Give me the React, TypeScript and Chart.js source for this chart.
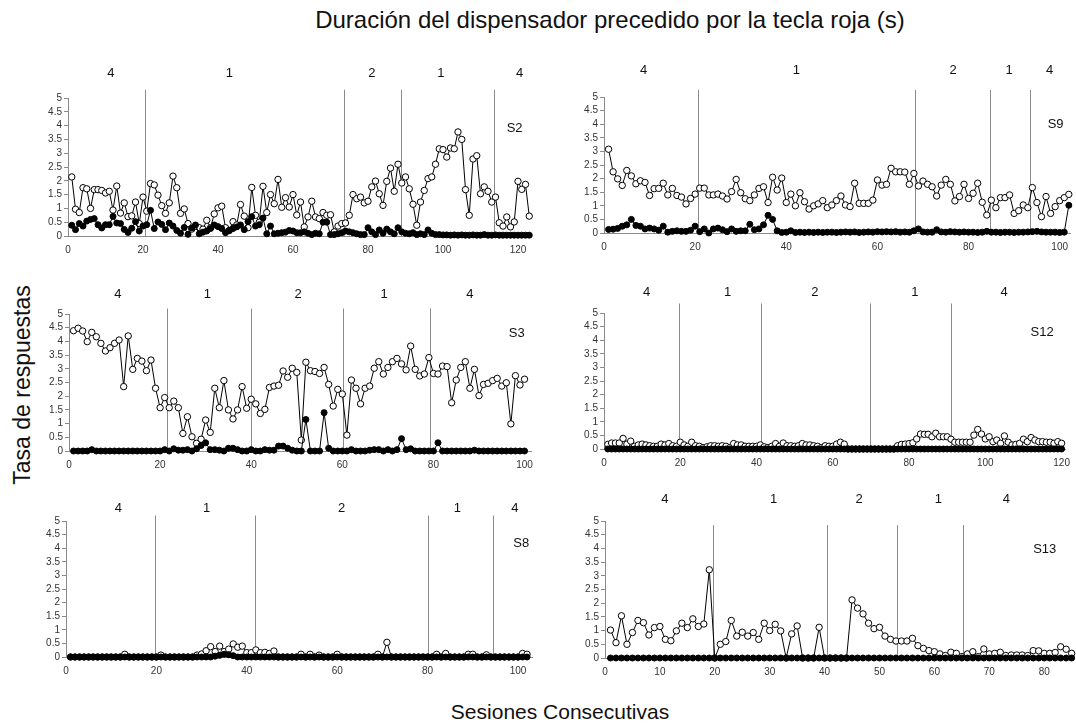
import React, { useEffect, useRef } from "react";
import { Chart, registerables } from "chart.js";

Chart.register(...registerables);

const FONT = "'Liberation Sans', Arial, sans-serif";

// ---------------- DATA ----------------
// S2
const s2Open = [
  2.14, 0.97, 0.85, 1.75, 1.71, 1.0, 1.68, 1.68, 1.65, 1.56,
  1.62, 0.94, 1.81, 0.83, 1.2, 0.7, 0.73, 1.23, 0.45, 1.41,
  0.9, 1.9, 1.85, 1.48, 1.1, 0.82, 1.2, 2.17, 1.75, 0.82,
  0.98, 0.45, 0.25, 0.35, 0.3, 0.25, 0.57, 0.3, 0.8, 1.02,
  1.08, 0.3, 0.2, 0.52, 0.4, 1.14, 0.72, 0.3, 1.76, 0.75,
  0.5, 1.8, 0.85, 1.5, 1.17, 2.05, 1.04, 1.39, 1.05, 1.5,
  0.76, 1.23, 0.33, 0.69, 1.26, 0.69, 0.63, 0.85, 0.75, 0.77,
  0.15, 0.36, 0.45, 0.47, 0.75, 1.5, 1.35, 1.41, 1.2, 1.26,
  1.78, 1.99, 1.53, 1.11, 1.98, 2.46, 1.62, 2.6, 1.92, 2.14,
  1.71, 1.15, 0.39, 1.23, 1.65, 2.08, 2.14, 2.6, 3.16, 3.13,
  2.86, 3.19, 3.16, 3.77, 3.5, 1.68, 0.75, 2.79, 2.91, 1.53,
  1.78, 1.62, 1.23, 1.41, 0.48, 0.36, 0.69, 0.33, 0.51, 1.98,
  1.69, 1.87, 0.72,
];
const s2Filled = [
  0.39, 0.23, 0.45, 0.36, 0.54, 0.6, 0.63, 0.41, 0.29, 0.41,
  0.41, 0.71, 0.47, 0.45, 0.24, 0.13, 0.28, 0.52, 0.18, 0.36,
  0.41, 0.93, 0.27, 0.51, 0.42, 0.23, 0.47, 0.36, 0.2, 0.1,
  0.31, 0.06, 0.29, 0.4, 0.08, 0.14, 0.18, 0.27, 0.4, 0.34,
  0.27, 0.12, 0.2, 0.27, 0.33, 0.4, 0.23, 0.52, 0.7, 0.36,
  0.41, 0.65, 0.08, 0.36, 0.08, 0.1, 0.12, 0.14, 0.2, 0.18,
  0.12, 0.12, 0.15, 0.1, 0.05, 0.1, 0.08, 0.5, 0.5, 0.05,
  0.05, 0.08, 0.12, 0.18, 0.15, 0.12, 0.08, 0.05, 0.05, 0.3,
  0.15, 0.05, 0.22, 0.1, 0.25, 0.15, 0.08, 0.3, 0.15, 0.1,
  0.08, 0.12, 0.05, 0.08, 0.05, 0.22, 0.1, 0.05, 0.05, 0.04,
  0.04, 0.03, 0.04, 0.03, 0.04, 0.03, 0.03, 0.04, 0.03, 0.03,
  0.05, 0.03, 0.03, 0.04, 0.03, 0.03, 0.03, 0.03, 0.03, 0.03,
  0.03, 0.03, 0.03,
];
const s2Phases = [20.45, 73.5, 88.7, 113.5];
const s2PhaseLabels = ["4", "1", "2", "1", "4"];
const s2PhaseLabelX = [11.4, 43, 81, 99.4, 120.4];

// S9
const s9Open = [
  3.08, 2.25, 1.99, 1.75, 2.3, 2.1, 1.81, 1.92, 1.86, 1.38,
  1.63, 1.64, 1.83, 1.4, 1.64, 1.38, 1.32, 1.07, 1.27, 1.43,
  1.65, 1.65, 1.4, 1.4, 1.43, 1.36, 1.25, 1.52, 1.97, 1.48,
  1.26, 1.19, 1.4, 1.64, 1.7, 1.12, 2.05, 1.58, 2.02, 1.12,
  1.43, 1.0, 1.48, 1.15, 0.88, 1.0, 1.07, 1.19, 0.93, 1.03,
  1.19, 1.36, 1.03, 0.97, 1.83, 1.09, 1.09, 1.09, 1.21, 1.95,
  1.76, 1.79, 2.38, 2.25, 2.25, 2.24, 1.79, 2.19, 1.73, 1.91,
  1.79, 1.7, 1.36, 1.76, 1.97, 1.79, 1.18, 1.34, 1.79, 1.27,
  1.46, 1.83, 1.13, 0.66, 1.21, 0.93, 1.3, 1.3, 1.4, 0.72,
  0.82, 1.03, 0.93, 1.67, 1.12, 0.6, 1.34, 0.72, 0.97, 1.19,
  1.3, 1.42,
];
const s9Filled = [
  0.13, 0.14, 0.17, 0.25, 0.3, 0.5, 0.28, 0.25, 0.15, 0.18,
  0.15, 0.1, 0.25, 0.03, 0.06, 0.08, 0.06, 0.06, 0.1, 0.25,
  0.05, 0.15, 0.0, 0.15, 0.18, 0.12, 0.05, 0.15, 0.06, 0.08,
  0.08, 0.32, 0.12, 0.15, 0.3, 0.65, 0.5, 0.08, 0.02, 0.03,
  0.08, 0.02, 0.03, 0.02, 0.03, 0.02, 0.03, 0.02, 0.03, 0.03,
  0.02, 0.03, 0.04, 0.03, 0.04, 0.02, 0.03, 0.04, 0.03, 0.05,
  0.04, 0.05, 0.04, 0.05, 0.03, 0.04, 0.03, 0.08, 0.15, 0.04,
  0.03, 0.03, 0.12, 0.04, 0.03, 0.05, 0.04, 0.03, 0.04, 0.03,
  0.03, 0.02, 0.03, 0.06, 0.03, 0.03, 0.02, 0.03, 0.03, 0.02,
  0.03, 0.03, 0.04, 0.05, 0.06, 0.04, 0.03, 0.03, 0.03, 0.02,
  0.03, 1.02,
];
const s9Phases = [20.6, 68.2, 84.6, 93.4];
const s9PhaseLabels = ["4", "1", "2", "1", "4"];
const s9PhaseLabelX = [8.7, 42.2, 76.6, 88.9, 97.8];

// S3
const s3Open = [
  4.39, 4.48, 4.38, 3.99, 4.33, 4.17, 3.93, 3.65, 3.77, 3.93,
  4.05, 2.35, 4.2, 2.98, 3.38, 3.28, 2.93, 3.32, 2.29, 1.58,
  1.95, 1.58, 1.82, 1.58, 0.64, 1.25, 0.52, 0.28, 0.43, 1.13,
  0.68, 2.29, 1.58, 2.57, 1.5, 1.17, 1.5, 2.35, 1.56, 1.89,
  1.72, 1.37, 1.52, 2.32, 2.37, 2.4, 2.92, 2.69, 3.02, 2.87,
  0.4, 3.24, 2.93, 2.9, 2.83, 3.05, 2.43, 1.64, 2.25, 2.08,
  0.58, 2.59, 2.29, 1.72, 2.29, 2.37, 3.02, 3.26, 2.81, 3.05,
  3.26, 3.38, 3.18, 2.96, 3.83, 2.98, 2.74, 2.81, 3.41, 2.83,
  2.81, 3.1, 3.08, 1.76, 2.59, 3.05, 3.26, 2.29, 2.98, 2.02,
  2.43, 2.47, 2.57, 2.65, 2.37, 2.49, 0.99, 2.75, 2.41, 2.62,
];
const s3Filled = [
  0, 0, 0, 0, 0.05, 0, 0, 0, 0, 0,
  0, 0, 0, 0, 0, 0, 0, 0, 0, 0,
  0.05, 0, 0.08, 0.03, 0.03, 0.05, 0, 0.08, 0.2, 0.3,
  0.05, 0.05, 0.03, 0, 0.1, 0.1, 0.05, 0, 0, 0.05,
  0, 0, 0.05, 0.03, 0.03, 0.18, 0.18, 0.1, 0.03, 0,
  0, 1.15, 0, 0, 0, 1.4, 0.1, 0, 0, 0,
  0, 0.05, 0, 0, 0, 0.03, 0.05, 0.05, 0, 0.05,
  0, 0.05, 0.45, 0.05, 0.08, 0, 0, 0, 0, 0,
  0.3, 0, 0, 0, 0, 0, 0, 0, 0.03, 0,
  0, 0, 0, 0, 0, 0, 0, 0, 0, 0,
];
const s3Phases = [21.6, 39.9, 60.1, 79.3];
const s3PhaseLabels = ["4", "1", "2", "1", "4"];
const s3PhaseLabelX = [10.7, 30.4, 50.3, 69.2, 88];

// S12
const s12Open = [
  0.17, 0.22, 0.22, 0.22, 0.39, 0.18, 0.29, 0.1, 0.15, 0.18,
  0.15, 0.12, 0.1, 0.1, 0.18, 0.15, 0.2, 0.12, 0.1, 0.25,
  0.15, 0.1, 0.25, 0.12, 0.1, 0.05, 0.08, 0.12, 0.12, 0.1,
  0.12, 0.1, 0.05, 0.2, 0.15, 0.15, 0.1, 0.1, 0.1, 0.1,
  0.15, 0.08, 0.05, 0.1, 0.2, 0.1, 0.22, 0.12, 0.12, 0.1,
  0.12, 0.2, 0.15, 0.15, 0.12, 0.1, 0.05, 0.12, 0.1, 0.1,
  0.18, 0.25, 0.18, 0, 0, 0, 0, 0, 0, 0,
  0, 0, 0, 0, 0, 0, 0.12, 0.17, 0.18, 0.2,
  0.23, 0.37, 0.55, 0.54, 0.54, 0.45, 0.58, 0.45, 0.45, 0.45,
  0.36, 0.25, 0.25, 0.25, 0.25, 0.25, 0.51, 0.72, 0.55, 0.37,
  0.45, 0.27, 0.33, 0.21, 0.48, 0.25, 0.15, 0.17, 0.21, 0.36,
  0.27, 0.42, 0.33, 0.27, 0.27, 0.25, 0.25, 0.21, 0.27, 0.21,
];
const s12Filled = [
  0, 0, 0, 0, 0, 0, 0, 0, 0, 0,
  0, 0, 0, 0, 0, 0, 0, 0, 0, 0,
  0, 0, 0, 0, 0, 0, 0, 0, 0, 0,
  0, 0, 0, 0, 0, 0, 0, 0, 0, 0,
  0, 0, 0, 0, 0, 0, 0, 0, 0, 0,
  0, 0, 0, 0, 0, 0, 0, 0, 0, 0,
  0, 0, 0, 0, 0, 0, 0, 0, 0, 0,
  0, 0, 0, 0, 0, 0, 0, 0, 0, 0,
  0, 0, 0, 0, 0, 0, 0, 0, 0, 0,
  0, 0, 0, 0, 0, 0, 0, 0, 0, 0,
  0, 0, 0, 0, 0, 0, 0, 0, 0, 0,
  0, 0, 0, 0, 0, 0, 0, 0, 0, 0,
];
const s12Phases = [19.6, 41.2, 69.7, 91];
const s12PhaseLabels = ["4", "1", "2", "1", "4"];
const s12PhaseLabelX = [11.2, 32.4, 55.3, 81.5, 104.9];

// S8
const s8Open = [
  0, 0, 0, 0, 0, 0, 0, 0, 0, 0,
  0, 0, 0.1, 0, 0, 0, 0, 0, 0, 0,
  0.07, 0, 0, 0, 0, 0, 0, 0, 0.07, 0.11,
  0.23, 0.38, 0.2, 0.4, 0.2, 0.29, 0.48, 0.36, 0.4, 0.16,
  0.16, 0.26, 0.16, 0.17, 0.13, 0.22, 0, 0, 0, 0,
  0, 0.1, 0, 0.1, 0, 0.07, 0, 0, 0, 0.1,
  0, 0, 0, 0, 0, 0, 0, 0, 0.1, 0,
  0.54, 0, 0, 0, 0, 0, 0, 0, 0, 0,
  0, 0.1, 0, 0.13, 0, 0, 0, 0, 0.1, 0.1,
  0, 0, 0.08, 0, 0, 0, 0, 0, 0, 0,
  0.13, 0.1,
];
const s8Filled = [
  0, 0, 0, 0, 0, 0, 0, 0, 0, 0,
  0, 0, 0, 0, 0, 0, 0, 0, 0, 0,
  0, 0, 0, 0, 0, 0, 0, 0, 0, 0,
  0, 0, 0.03, 0.06, 0.1, 0.08, 0.05, 0, 0, 0,
  0, 0, 0, 0, 0, 0, 0, 0, 0, 0,
  0, 0, 0, 0, 0, 0, 0, 0, 0, 0,
  0, 0, 0, 0, 0, 0, 0, 0, 0, 0,
  0, 0, 0, 0, 0, 0, 0, 0, 0, 0,
  0, 0, 0, 0, 0, 0, 0, 0, 0, 0,
  0, 0, 0, 0, 0, 0, 0, 0, 0, 0,
  0, 0,
];
const s8Phases = [19.7, 41.8, 80.0, 94.4];
const s8PhaseLabels = ["4", "1", "2", "1", "4"];
const s8PhaseLabelX = [11.6, 31.1, 61, 86.6, 99.3];

// S13
const s13Open = [
  1.02, 0.56, 1.54, 0.5, 0.93, 1.37, 1.29, 0.84, 1.11, 1.15,
  0.68, 0.63, 0.99, 1.27, 1.11, 1.43, 1.15, 1.24, 3.22, 0,
  0.5, 0.6, 1.37, 0.8, 0.94, 0.8, 0.93, 0.68, 1.27, 1.0,
  1.23, 0.99, 0, 0.88, 1.17, 0, 0, 0, 1.12, 0,
  0, 0, 0, 0, 2.12, 1.82, 1.61, 1.27, 1.07, 1.12,
  0.8, 0.68, 0.62, 0.62, 0.62, 0.72, 0.45, 0.35, 0.27, 0.23,
  0.15, 0.09, 0.21, 0.17, 0.05, 0.15, 0.23, 0.05, 0.33, 0.15,
  0.17, 0.21, 0.09, 0.11, 0.11, 0.11, 0.09, 0.27, 0.26, 0.17,
  0.17, 0.2, 0.41, 0.32, 0.17,
];
const s13Filled = [
  0, 0, 0, 0, 0, 0, 0, 0, 0, 0,
  0, 0, 0, 0, 0, 0, 0, 0, 0, 0,
  0, 0, 0, 0, 0, 0, 0, 0, 0, 0,
  0, 0, 0, 0, 0, 0, 0, 0, 0, 0,
  0, 0, 0, 0, 0, 0, 0, 0, 0, 0,
  0, 0, 0, 0, 0, 0, 0, 0, 0, 0,
  0, 0, 0, 0, 0, 0, 0, 0, 0, 0,
  0, 0, 0, 0, 0, 0, 0, 0, 0, 0,
  0, 0, 0, 0, 0,
];
const s13Phases = [19.7, 40.4, 53.2, 65.2];
const s13PhaseLabels = ["4", "1", "2", "1", "4"];
const s13PhaseLabelX = [10.9, 30.7, 46.3, 60.7, 73.1];

const yTicks = [0, 0.5, 1, 1.5, 2, 2.5, 3, 3.5, 4, 4.5, 5];

// ---------------- LAYOUT (positions / styles) ----------------
type Layout = {
  x0: number; ppu: number; y0: number; y5: number; xEnd: number; xStep: number;
  lineTop: number; labelDy: number; sX: number; sY: number;
};

type PanelCfg = {
  name: string; open: number[]; filled: number[]; phases: number[];
  phaseLabels: string[]; phaseLabelX: number[]; layout: Layout;
};

const panels: PanelCfg[] = [
  { name: "S2", open: s2Open, filled: s2Filled, phases: s2Phases, phaseLabels: s2PhaseLabels, phaseLabelX: s2PhaseLabelX,
    layout: { x0: 68, ppu: 3.75, y0: 236, y5: 98, xEnd: 123.5, xStep: 20, lineTop: 5.3, labelDy: 25, sX: 119.1, sY: 3.91 } },
  { name: "S9", open: s9Open, filled: s9Filled, phases: s9Phases, phaseLabels: s9PhaseLabels, phaseLabelX: s9PhaseLabelX,
    layout: { x0: 604, ppu: 4.557, y0: 233, y5: 97, xEnd: 102.3, xStep: 20, lineTop: 5.26, labelDy: 27, sX: 99.1, sY: 3.98 } },
  { name: "S3", open: s3Open, filled: s3Filled, phases: s3Phases, phaseLabels: s3PhaseLabels, phaseLabelX: s3PhaseLabelX,
    layout: { x0: 69, ppu: 4.574, y0: 451, y5: 314, xEnd: 101.5, xStep: 20, lineTop: 5.2, labelDy: 20, sX: 98.3, sY: 4.3 } },
  { name: "S12", open: s12Open, filled: s12Filled, phases: s12Phases, phaseLabels: s12PhaseLabels, phaseLabelX: s12PhaseLabelX,
    layout: { x0: 604, ppu: 3.853, y0: 449, y5: 313, xEnd: 121, xStep: 20, lineTop: 5.35, labelDy: 21, sX: 114.9, sY: 4.29 } },
  { name: "S8", open: s8Open, filled: s8Filled, phases: s8Phases, phaseLabels: s8PhaseLabels, phaseLabelX: s8PhaseLabelX,
    layout: { x0: 66, ppu: 4.52, y0: 657, y5: 521, xEnd: 103, xStep: 20, lineTop: 5.2, labelDy: 13, sX: 100.7, sY: 4.18 } },
  { name: "S13", open: s13Open, filled: s13Filled, phases: s13Phases, phaseLabels: s13PhaseLabels, phaseLabelX: s13PhaseLabelX,
    layout: { x0: 605, ppu: 5.49, y0: 658, y5: 521, xEnd: 85.5, xStep: 10, lineTop: 4.85, labelDy: 22, sX: 80.1, sY: 3.95 } },
];

const YW = 40;
const PT = 40;
const XH = 30;
const PR = 8;

function Panel({ cfg }: { cfg: PanelCfg }) {
  const ref = useRef<HTMLCanvasElement | null>(null);
  const L = cfg.layout;
  const plotW = Math.round(L.xEnd * L.ppu);
  const xMax = plotW / L.ppu;
  const width = YW + plotW + PR;
  const height = PT + (L.y0 - L.y5) + XH;
  const left = L.x0 - YW;
  const top = L.y5 - PT;

  useEffect(() => {
    const canvas = ref.current;
    if (!canvas) return;
    const overlay = {
      id: "overlay" + cfg.name,
      beforeDatasetsDraw(chart: any) {
        const { ctx } = chart;
        const xs = chart.scales.x;
        const ys = chart.scales.y;
        ctx.save();
        ctx.strokeStyle = "#8a8a8a";
        ctx.lineWidth = 1;
        cfg.phases.forEach((p) => {
          const px = Math.round(xs.getPixelForValue(p)) + 0.5;
          ctx.beginPath();
          ctx.moveTo(px, ys.getPixelForValue(L.lineTop));
          ctx.lineTo(px, ys.getPixelForValue(0));
          ctx.stroke();
        });
        ctx.restore();
      },
      afterDatasetsDraw(chart: any) {
        const { ctx, chartArea } = chart;
        const xs = chart.scales.x;
        const ys = chart.scales.y;
        ctx.save();
        ctx.fillStyle = "#111";
        ctx.font = "13px " + FONT;
        ctx.textAlign = "center";
        ctx.textBaseline = "middle";
        cfg.phaseLabels.forEach((t, i) => {
          ctx.fillText(t, xs.getPixelForValue(cfg.phaseLabelX[i]), chartArea.top - L.labelDy);
        });
        ctx.fillText(cfg.name, xs.getPixelForValue(L.sX), ys.getPixelForValue(L.sY));
        ctx.restore();
      },
    };

    const chart = new Chart(canvas, {
      type: "line",
      data: {
        datasets: [
          {
            label: "filled",
            data: cfg.filled.map((v, i) => ({ x: i + 1, y: v })),
            borderColor: "#000",
            backgroundColor: "#000",
            borderWidth: 1,
            pointRadius: 3,
            pointBorderWidth: 1,
            pointBorderColor: "#000",
            pointBackgroundColor: "#000",
            clip: false as any,
            tension: 0,
          },
          {
            label: "open",
            data: cfg.open.map((v, i) => ({ x: i + 1, y: v })),
            borderColor: "#000",
            backgroundColor: "#fff",
            borderWidth: 1,
            pointRadius: 3.2,
            pointBorderWidth: 1,
            pointBorderColor: "#000",
            pointBackgroundColor: "#fff",
            clip: false as any,
            tension: 0,
          },
        ],
      },
      options: {
        animation: false,
        responsive: false,
        maintainAspectRatio: false,
        devicePixelRatio: 1,
        events: [],
        layout: { padding: { top: PT, right: PR, left: 0, bottom: 0 } },
        plugins: { legend: { display: false }, tooltip: { enabled: false } },
        scales: {
          x: {
            type: "linear",
            min: 0,
            max: xMax,
            afterFit: (s: any) => { s.height = XH; },
            ticks: {
              stepSize: L.xStep,
              includeBounds: false,
              autoSkip: false,
              maxRotation: 0,
              padding: 8,
              color: "#333",
              font: { family: FONT, size: 10 },
              callback: (v: any) => String(v),
            },
            grid: { display: false, drawTicks: false },
            border: { display: true, color: "#8a8a8a", width: 1 },
          },
          y: {
            type: "linear",
            min: 0,
            max: 5,
            afterFit: (s: any) => { s.width = YW; },
            afterBuildTicks: (s: any) => { s.ticks = yTicks.map((v) => ({ value: v })); },
            ticks: {
              autoSkip: false,
              padding: 2,
              color: "#333",
              font: { family: FONT, size: 10 },
              callback: (v: any) => String(v),
            },
            grid: { display: true, drawOnChartArea: false, drawTicks: true, tickLength: 4, color: "#8a8a8a" },
            border: { display: true, color: "#8a8a8a", width: 1 },
          },
        },
      },
      plugins: [overlay as any],
    });
    return () => chart.destroy();
  }, []);

  return (
    <canvas
      ref={ref}
      width={width}
      height={height}
      style={{ position: "absolute", left, top, width, height, display: "block" }}
    />
  );
}

export default function App() {
  return (
    <div
      style={{
        position: "fixed",
        left: 0,
        top: 0,
        width: 1076,
        height: 727,
        overflow: "hidden",
        background: "#fff",
        fontFamily: FONT,
        color: "#111",
      }}
    >
      <div
        style={{
          position: "absolute",
          left: 610,
          top: 20,
          transform: "translate(-50%, -50%)",
          fontSize: 24,
          lineHeight: "28px",
          whiteSpace: "nowrap",
        }}
      >
        Duración del dispensador precedido por la tecla roja (s)
      </div>
      <div
        style={{
          position: "absolute",
          left: 22,
          top: 385,
          transform: "translate(-50%, -50%) rotate(-90deg)",
          fontSize: 23,
          lineHeight: "26px",
          whiteSpace: "nowrap",
        }}
      >
        Tasa de respuestas
      </div>
      <div
        style={{
          position: "absolute",
          left: 560,
          top: 712,
          transform: "translate(-50%, -50%)",
          fontSize: 21,
          lineHeight: "24px",
          whiteSpace: "nowrap",
        }}
      >
        Sesiones Consecutivas
      </div>
      {panels.map((p) => (
        <Panel key={p.name} cfg={p} />
      ))}
    </div>
  );
}
